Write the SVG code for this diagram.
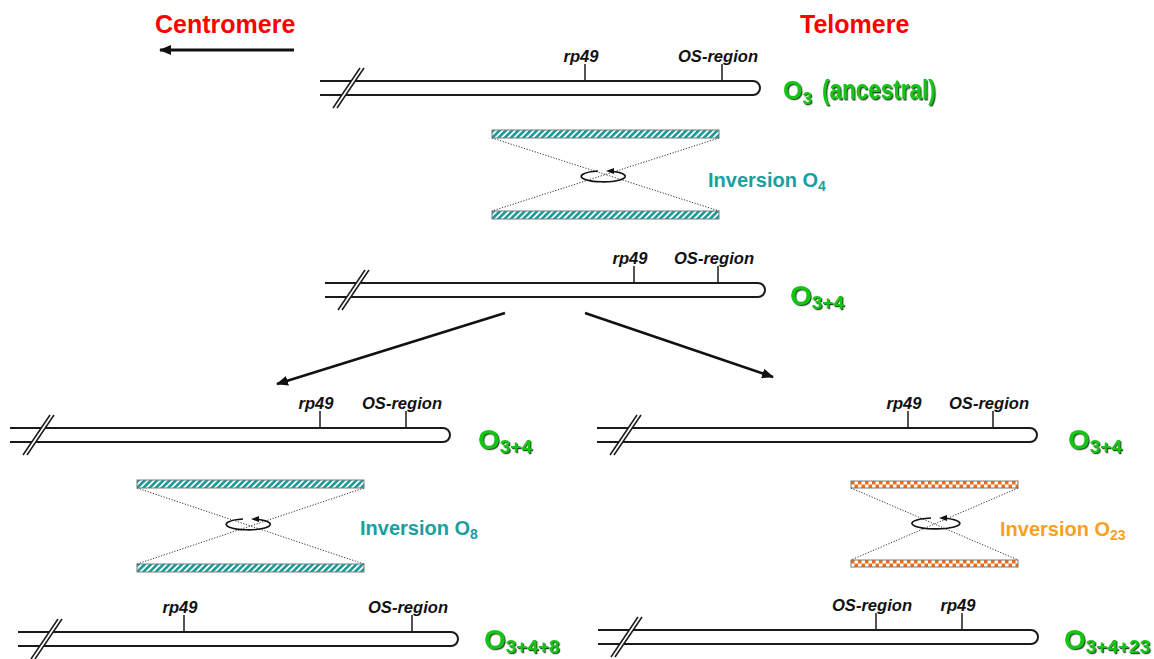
<svg xmlns="http://www.w3.org/2000/svg" width="1154" height="659" viewBox="0 0 1154 659">
  <defs>
    <style>
      .chr { fill: none; stroke: #1a1a1a; stroke-width: 2; }
      .slash { stroke: #1a1a1a; stroke-width: 1.5; }
      .tick { stroke: #1a1a1a; stroke-width: 1.5; }
      .mk { font-family: "Liberation Sans", Arial, sans-serif; font-weight: bold; font-style: italic; font-size: 16px; fill: #111; text-anchor: middle; }
      .title { font-family: "Liberation Sans", Arial, sans-serif; font-weight: bold; font-size: 25px; fill: #ff0000; }
      .karyo { font-family: "Liberation Sans", Arial, sans-serif; font-weight: bold; fill: #16c416; filter: url(#shadow); }
      .inv { font-family: "Liberation Sans", Arial, sans-serif; font-weight: bold; font-size: 20px; }
      .teal { fill: #1b9e9e; }
      .orange { fill: #f8a11c; }
      .dot { stroke: #333; stroke-width: 1; stroke-dasharray: 1.2 1.6; fill: none; }
      .loop { fill: none; stroke: #111; stroke-width: 1.6; }
      .conn { stroke: #111; stroke-width: 2.5; fill: none; }
      .box { stroke: #7a7a7a; stroke-width: 1; }
    </style>
    <filter id="shadow" x="-10%" y="-10%" width="130%" height="140%">
      <feDropShadow dx="1.2" dy="1.2" stdDeviation="0.4" flood-color="#0b3b0b" flood-opacity="0.9"/>
    </filter>
    <pattern id="hatch" width="4.4" height="4.4" patternUnits="userSpaceOnUse" patternTransform="rotate(45)">
      <rect width="4.4" height="4.4" fill="#fff"/>
      <rect width="2.6" height="4.4" fill="#159a9a"/>
    </pattern>
    <pattern id="checker" width="7" height="7" patternUnits="userSpaceOnUse">
      <rect width="7" height="7" fill="#fff"/>
      <rect width="3.5" height="3.5" fill="#f06a10"/>
      <rect x="3.5" y="3.5" width="3.5" height="3.5" fill="#f06a10"/>
    </pattern>
    <marker id="head" viewBox="0 0 12 10" refX="11" refY="5" markerWidth="12" markerHeight="10" markerUnits="userSpaceOnUse" orient="auto">
      <path d="M0,0 L12,5 L0,10 Z" fill="#111"/>
    </marker>
    <!-- chromosome arm: open left end with break mark, rounded telomeric end -->
    <g id="chrom">
      <path class="chr" d="M0,0 H433 A7,7 0 0 1 433,14 H0"/>
      <polygon points="13,27 17,27 44,-13 40,-13" fill="#fff"/>
      <line class="slash" x1="13" y1="27" x2="40" y2="-13"/>
      <line class="slash" x1="17" y1="27" x2="44" y2="-13"/>
    </g>
    <rect id="hbox" width="227" height="8" fill="url(#hatch)" class="box"/>
    <rect id="cbox" width="167" height="7" fill="url(#checker)" class="box"/>
  </defs>

  <rect width="1154" height="659" fill="#fff"/>

  <!-- orientation headers -->
  <g id="centromere">
    <text class="title" x="155" y="33">Centromere</text>
    <line x1="294" y1="50" x2="160" y2="50" stroke="#111" stroke-width="3" marker-end="url(#head)"/>
  </g>
  <g id="telomere">
    <text class="title" x="800" y="33">Telomere</text>
  </g>

  <!-- O3 ancestral -->
  <g id="o3">
    <use href="#chrom" x="320" y="81"/>
    <line class="tick" x1="585" y1="64" x2="585" y2="81"/>
    <line class="tick" x1="722" y1="64" x2="722" y2="81"/>
    <text class="mk" x="581" y="62" textLength="35" lengthAdjust="spacingAndGlyphs">rp49</text>
    <text class="mk" x="718" y="62" textLength="80" lengthAdjust="spacingAndGlyphs">OS-region</text>
    <text class="karyo" x="783" y="99"><tspan font-size="25">O</tspan><tspan font-size="17" dy="5">3</tspan></text>
    <text class="karyo" font-size="22.5" transform="translate(822,99) scale(1,1.2)">(ancestral)</text>
  </g>

  <!-- Inversion O4 -->
  <g id="inv-o4">
    <use href="#hbox" x="492" y="130"/>
    <use href="#hbox" x="492" y="211"/>
    <line class="dot" x1="492" y1="138" x2="719" y2="211"/>
    <line class="dot" x1="719" y1="138" x2="492" y2="211"/>
    <path class="loop" d="M598,171 A22,5.5 0 1 0 612,171.3"/>
    <polygon points="606,171 614,168 614,174" fill="#111"/>
    <text class="inv teal" x="708" y="187">Inversion O<tspan font-size="14" dy="4">4</tspan></text>
  </g>

  <!-- O3+4 -->
  <g id="o34">
    <use href="#chrom" x="325" y="283"/>
    <line class="tick" x1="634" y1="266" x2="634" y2="283"/>
    <line class="tick" x1="718" y1="266" x2="718" y2="283"/>
    <text class="mk" x="630" y="264" textLength="35" lengthAdjust="spacingAndGlyphs">rp49</text>
    <text class="mk" x="714" y="264" textLength="80" lengthAdjust="spacingAndGlyphs">OS-region</text>
    <text class="karyo" x="790" y="305"><tspan font-size="28">O</tspan><tspan font-size="19" dy="4">3+4</tspan></text>
  </g>

  <!-- lineage split -->
  <g id="connectors">
    <line class="conn" x1="505" y1="313" x2="277" y2="384" marker-end="url(#head)"/>
    <line class="conn" x1="585" y1="313" x2="773" y2="377" marker-end="url(#head)"/>
  </g>

  <!-- O3+4, left lineage -->
  <g id="o34-left">
    <use href="#chrom" x="10" y="428"/>
    <line class="tick" x1="320" y1="411" x2="320" y2="428"/>
    <line class="tick" x1="406" y1="411" x2="406" y2="428"/>
    <text class="mk" x="316" y="409" textLength="35" lengthAdjust="spacingAndGlyphs">rp49</text>
    <text class="mk" x="402" y="409" textLength="80" lengthAdjust="spacingAndGlyphs">OS-region</text>
    <text class="karyo" x="478" y="449"><tspan font-size="28">O</tspan><tspan font-size="19" dy="4">3+4</tspan></text>
  </g>

  <!-- O3+4, right lineage -->
  <g id="o34-right">
    <use href="#chrom" x="597" y="428"/>
    <line class="tick" x1="908" y1="411" x2="908" y2="428"/>
    <line class="tick" x1="993" y1="411" x2="993" y2="428"/>
    <text class="mk" x="904" y="409" textLength="35" lengthAdjust="spacingAndGlyphs">rp49</text>
    <text class="mk" x="989" y="409" textLength="80" lengthAdjust="spacingAndGlyphs">OS-region</text>
    <text class="karyo" x="1068" y="449"><tspan font-size="28">O</tspan><tspan font-size="19" dy="4">3+4</tspan></text>
  </g>

  <!-- Inversion O8 -->
  <g id="inv-o8">
    <use href="#hbox" x="137" y="480"/>
    <use href="#hbox" x="137" y="564"/>
    <line class="dot" x1="137" y1="488" x2="364" y2="564"/>
    <line class="dot" x1="364" y1="488" x2="137" y2="564"/>
    <path class="loop" d="M243,519 A22,5.5 0 1 0 257,519.3"/>
    <polygon points="251,519 259,516 259,522" fill="#111"/>
    <text class="inv teal" x="360" y="535">Inversion O<tspan font-size="14" dy="4">8</tspan></text>
  </g>

  <!-- Inversion O23 -->
  <g id="inv-o23">
    <use href="#cbox" x="851" y="481"/>
    <use href="#cbox" x="851" y="560"/>
    <line class="dot" x1="851" y1="488" x2="1018" y2="560"/>
    <line class="dot" x1="1018" y1="488" x2="851" y2="560"/>
    <path class="loop" d="M931,518 A24,5.5 0 1 0 945,518.3"/>
    <polygon points="939,518 947,515 947,521" fill="#111"/>
    <text class="inv orange" x="1000" y="536">Inversion O<tspan font-size="14" dy="4">23</tspan></text>
  </g>

  <!-- O3+4+8 -->
  <g id="o348">
    <use href="#chrom" x="18" y="632"/>
    <line class="tick" x1="184" y1="615" x2="184" y2="632"/>
    <line class="tick" x1="412" y1="615" x2="412" y2="632"/>
    <text class="mk" x="180" y="613" textLength="35" lengthAdjust="spacingAndGlyphs">rp49</text>
    <text class="mk" x="408" y="613" textLength="80" lengthAdjust="spacingAndGlyphs">OS-region</text>
    <text class="karyo" x="484" y="649"><tspan font-size="28">O</tspan><tspan font-size="19" dy="4">3+4+8</tspan></text>
  </g>

  <!-- O3+4+23 -->
  <g id="o3423">
    <use href="#chrom" x="598" y="630"/>
    <line class="tick" x1="876" y1="613" x2="876" y2="630"/>
    <line class="tick" x1="962" y1="613" x2="962" y2="630"/>
    <text class="mk" x="872" y="611" textLength="80" lengthAdjust="spacingAndGlyphs">OS-region</text>
    <text class="mk" x="958" y="611" textLength="35" lengthAdjust="spacingAndGlyphs">rp49</text>
    <text class="karyo" x="1064" y="649"><tspan font-size="28">O</tspan><tspan font-size="19" dy="4">3+4+23</tspan></text>
  </g>
</svg>
